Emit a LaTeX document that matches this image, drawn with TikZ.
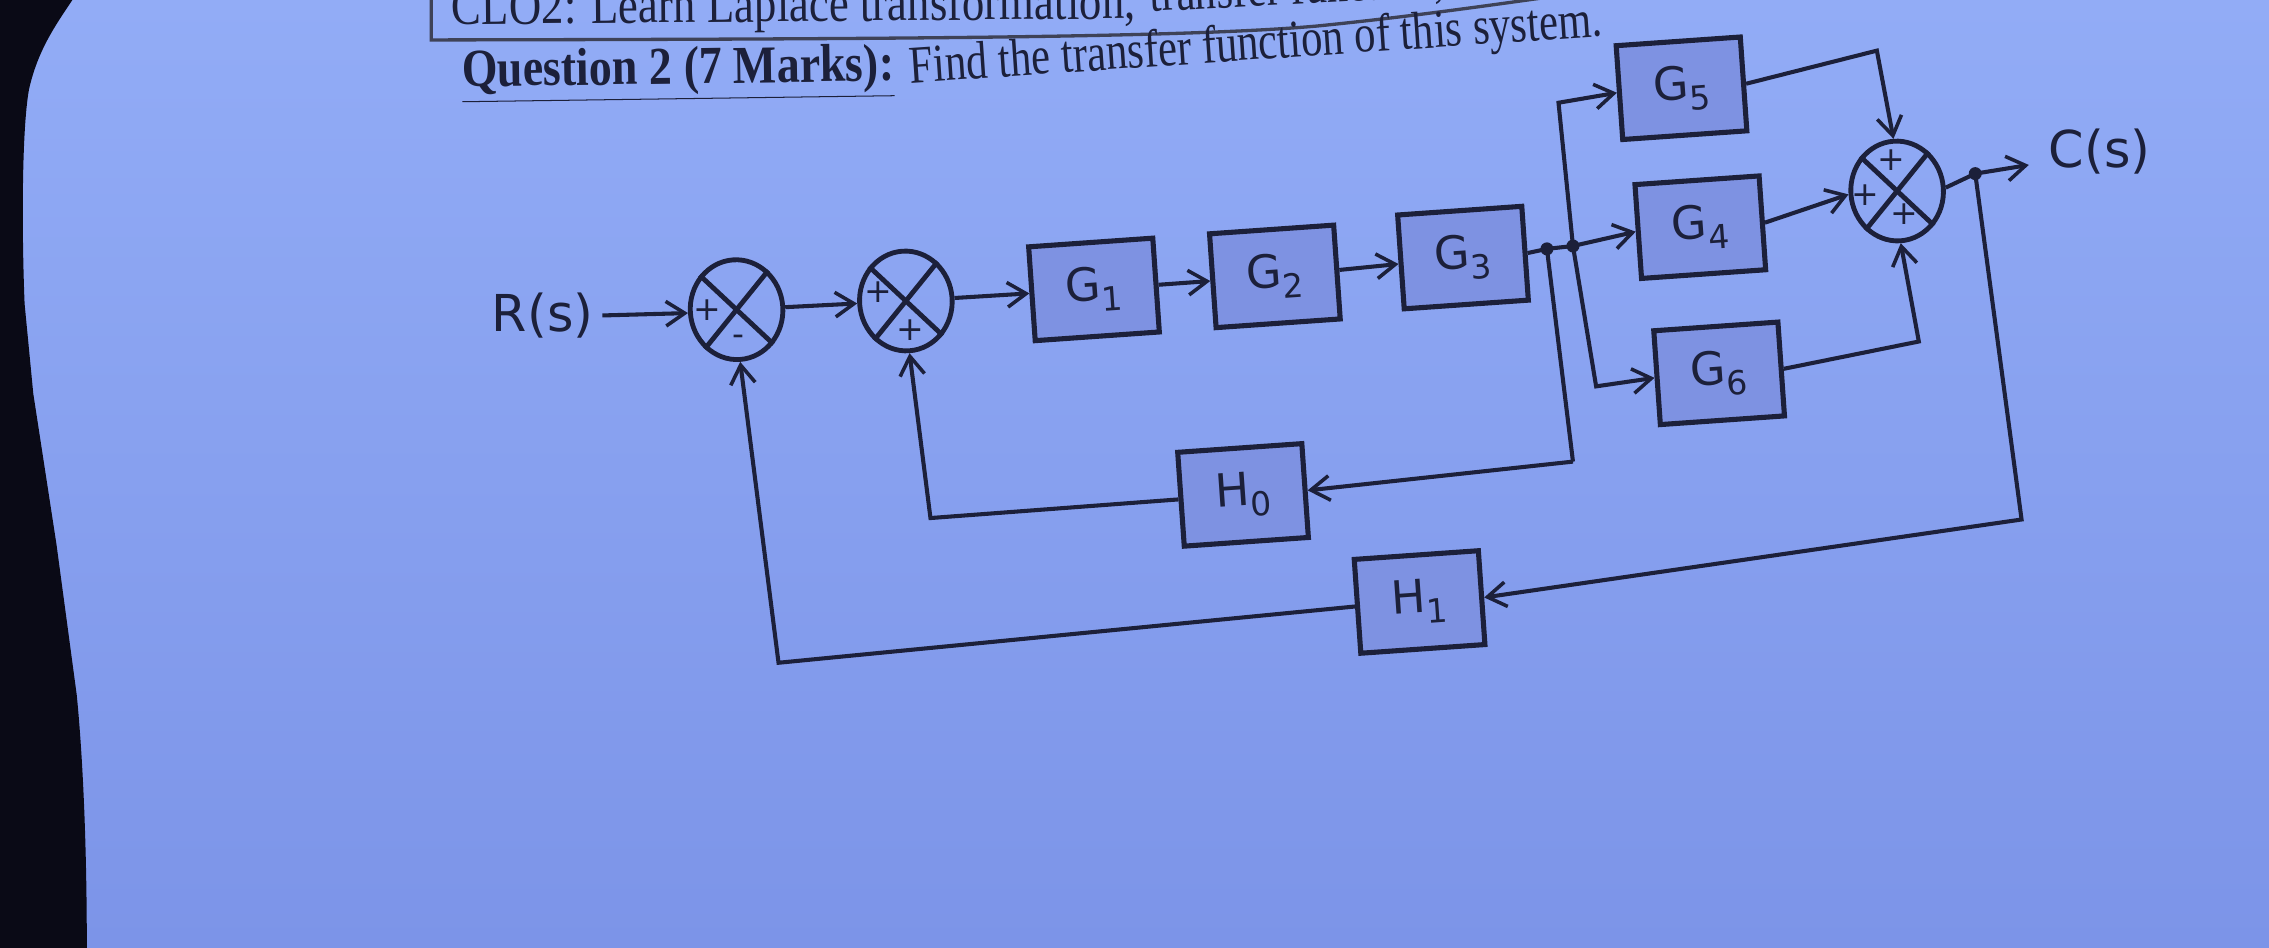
\documentclass[tikz,border=0pt]{standalone}
\usepackage{fontspec}
\setmainfont{Liberation Serif}
\newfontfamily\diagfont{DejaVu Sans}
\usetikzlibrary{arrows.meta,shapes.geometric,calc}
\definecolor{paper}{RGB}{146,172,246}
\definecolor{paperb}{RGB}{124,148,232}
\definecolor{ink}{RGB}{28,32,58}
\definecolor{blkfill}{RGB}{126,146,226}
\definecolor{edge}{RGB}{10,10,22}
\newcommand\gsub[2]{#1\raisebox{-0.45ex}{\fontsize{13}{13}\selectfont #2}}
\begin{document}
\begin{tikzpicture}[x=0.02cm,y=-0.02cm,
  ln/.style={draw=ink,line width=1.6pt},
  arr/.style={ln,-{Straight Barb[length=2.6mm,width=3.4mm,line width=1.4pt]}},
  blk/.style={draw=ink,fill=blkfill,line width=2pt,minimum width=1.72cm,minimum height=1.3cm,rotate=4,font=\diagfont\fontsize{18}{18}\selectfont,text=ink},
  sumj/.style={ellipse,draw=ink,line width=1.9pt,minimum width=1.28cm,minimum height=1.38cm,rotate=4},
  sgn/.style={font=\diagfont\fontsize{13}{13}\selectfont,text=ink,inner sep=0pt},
  dotn/.style={circle,fill=ink,inner sep=0pt,minimum size=0.18cm},
  sig/.style={font=\diagfont\fontsize{20}{20}\selectfont,text=ink},
  hdr/.style={anchor=base west,inner sep=0pt,text=ink}
]
\useasboundingbox (0,0) rectangle (1568,655);
\clip (0,0) rectangle (1568,655);
\shade[top color=paper,bottom color=paperb] (0,0) rectangle (1568,655);
\fill[edge] (0,0) -- (50,0) .. controls (38,18) and (26,35) .. (20,62)
  .. controls (15,90) and (15,160) .. (17,210) -- (23,272) -- (39,376) -- (53,480)
  .. controls (57,520) and (60,580) .. (60,655) -- (0,655) -- cycle;

% header
\draw[ink!85,line width=1.3pt] (298,-2) -- (298,27.6) .. controls (620,27) and (820,26) .. (910,18) .. controls (970,12) and (1020,5) .. (1070,-2);
\node[hdr,rotate=0.5] (clo) at (312,17) {\scalebox{0.84}[1]{\fontsize{21}{21}\selectfont CLO2: Learn Laplace transformation,}};
\node[hdr,rotate=3] (clo2) at (795,8) {\scalebox{0.8}[1]{\fontsize{21}{21}\selectfont transfer function,}};
\node[hdr,rotate=0.8] (q) at (319,60) {\scalebox{0.86}[1]{\fontsize{21}{21}\selectfont\underline{\textbf{Question 2 (7 Marks):}}}};
\node[hdr,rotate=3.9] (find) at (629,57.6) {\scalebox{0.80}[1]{\fontsize{21}{21}\selectfont Find the transfer function of this system.}};

% nodes
\node[sig] (R) at (375,218) {R(s)};
\node[sumj] (s1) at (509,214) {};
\node[sumj] (s2) at (626,208) {};
\node[blk] (G1) at (756,200) {\gsub{G}{1}};
\node[blk] (G2) at (881,191) {\gsub{G}{2}};
\node[blk] (G3) at (1011,178) {\gsub{G}{3}};
\node[blk] (G5) at (1162,61) {\gsub{G}{5}};
\node[blk] (G4) at (1175,157) {\gsub{G}{4}};
\node[blk] (G6) at (1188,258) {\gsub{G}{6}};
\node[sumj] (s3) at (1311,132) {};
\node[blk] (H0) at (859,342) {\gsub{H}{0}};
\node[blk] (H1) at (981,416) {\gsub{H}{1}};
\node[sig] (C) at (1451,105) {C(s)};

% crosses and signs
\foreach \s in {s1,s2,s3}{
  \draw[ln,line width=1.9pt] (\s.north west) -- (\s.south east) (\s.north east) -- (\s.south west);
}
\node[sgn] at ($(s1)+(-20,0)$) {+};
\node[sgn] at ($(s1)+(1,21)$) {-};
\node[sgn] at ($(s2)+(-19,-6)$) {+};
\node[sgn] at ($(s2)+(3,20)$) {+};
\node[sgn] at ($(s3)+(-4,-21)$) {+};
\node[sgn] at ($(s3)+(-22,3)$) {+};
\node[sgn] at ($(s3)+(5,16)$) {+};

% coordinates
\coordinate (c5a) at (1077,71);
\coordinate (c6a) at (1103,267);
\coordinate (c0a) at (1087,319);
\coordinate (c0b) at (643,358);
\coordinate (c1a) at (1397,359);
\coordinate (c1b) at (538,458);
\coordinate (c5b) at (1297,35);
\coordinate (c6b) at (1326,236);
\coordinate (cend) at (1402,114);
\node[dotn] (d1) at (1069,172) {};
\node[dotn] (d2) at (1087,170) {};
\node[dotn] (d3) at (1365,120) {};

% connectors
\draw[arr] (R.east) -- (s1.west);
\draw[arr] (s1) -- (s2);
\draw[arr] (s2) -- (G1);
\draw[arr] (G1) -- (G2);
\draw[arr] (G2) -- (G3);
\draw[ln] (G3.east) -- (d1.center) -- (d2.center);
\draw[arr] (d2.center) -- (G4.west);
\draw[arr] (d2.center) -- (c5a) -- (G5.west);
\draw[arr] (d2.center) -- (c6a) -- (G6.west);
\draw[ln] (d1.center) -- (c0a);
\draw[arr] (c0a) -- (H0.east);
\draw[arr] (H0.west) -- (c0b) -- (s2.south);
\draw[arr] (G5.east) -- (c5b) -- (s3.north);
\draw[arr] (G4.east) -- (s3.west);
\draw[arr] (G6.east) -- (c6b) -- (s3.south);
\draw[ln] (s3.east) -- (d3.center);
\draw[arr] (d3.center) -- (cend);
\draw[arr] (d3.center) -- (c1a) -- (H1.east);
\draw[arr] (H1.west) -- (c1b) -- (s1.south);
\end{tikzpicture}
\end{document}
